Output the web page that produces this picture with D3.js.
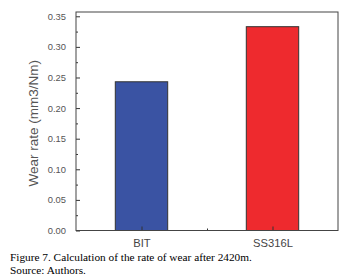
<!DOCTYPE html>
<html>
<head>
<meta charset="utf-8">
<script src="https://cdn.jsdelivr.net/npm/d3@7"></script>
<style>
  body { margin: 0; background: #fff; }
  svg { display: block; }
</style>
</head>
<body>
<script>
let categories = ["BIT", "SS316L"];
let wearRate = [0.243, 0.333];
let barColors = ["#3a53a3", "#ee2a2e"];
let yTicks = [0.00, 0.05, 0.10, 0.15, 0.20, 0.25, 0.30, 0.35];

let width = 356, height = 279;
let margin = ({top: 12, right: 18, bottom: 48.5, left: 76});
let svg = d3.select("body").append("svg").attr("width", width).attr("height", height);

let x = d3.scaleLinear().domain([0.5, 2.5]).range([margin.left, width - margin.right]);
let y = d3.scaleLinear().domain([0, 0.357]).range([height - margin.bottom, margin.top]);
let bw = x(1.4) - x(1);

// bars
svg.append("g")
    .selectAll("rect")
    .data(wearRate)
    .join("rect")
    .attr("x", (d, i) => x(i + 1) - bw / 2)
    .attr("y", d => y(d))
    .attr("width", bw)
    .attr("height", d => y(0) - y(d))
    .attr("fill", (d, i) => barColors[i])
    .attr("stroke", "#333")
    .attr("stroke-width", 1);

// y axis, ticks inward
let yAxis = d3.axisLeft(y).tickValues(yTicks).tickSize(-4).tickPadding(10).tickFormat(d3.format(".2f"));
svg.append("g")
    .attr("transform", `translate(${margin.left},0)`)
    .call(yAxis)
    .call(g => g.select(".domain").remove())
    .call(g => g.selectAll(".tick line").attr("stroke", "#333"))
    .call(g => g.selectAll(".tick text").attr("fill", "#555").attr("font-family", "Liberation Sans, Arial, sans-serif").attr("font-size", 9.4));

let yMinor = d3.axisLeft(y).tickValues(d3.range(0.025, 0.35, 0.05)).tickSize(-2).tickFormat("");
svg.append("g")
    .attr("transform", `translate(${margin.left},0)`)
    .call(yMinor)
    .call(g => g.select(".domain").remove())
    .call(g => g.selectAll(".tick line").attr("stroke", "#333"));

// x axis, ticks inward
let xAxis = d3.axisBottom(x).tickValues([1, 2]).tickSize(-4).tickPadding(9).tickFormat((d, i) => categories[i]);
svg.append("g")
    .attr("transform", `translate(0,${y(0)})`)
    .call(xAxis)
    .call(g => g.select(".domain").remove())
    .call(g => g.selectAll(".tick line").attr("stroke", "#333"))
    .call(g => g.selectAll(".tick text").attr("fill", "#444").attr("font-family", "Liberation Sans, Arial, sans-serif").attr("font-size", 11.2));

let xMinor = d3.axisBottom(x).tickValues([1.5]).tickSize(-2).tickFormat("");
svg.append("g")
    .attr("transform", `translate(0,${y(0)})`)
    .call(xMinor)
    .call(g => g.select(".domain").remove())
    .call(g => g.selectAll(".tick line").attr("stroke", "#333"));

// frame
svg.append("rect")
    .attr("x", margin.left)
    .attr("y", margin.top)
    .attr("width", width - margin.right - margin.left)
    .attr("height", y(0) - margin.top)
    .attr("fill", "none")
    .attr("stroke", "#444")
    .attr("stroke-width", 1);

// y label
svg.append("text")
    .attr("transform", `translate(38,${(margin.top + y(0)) / 2 + 2}) rotate(-90)`)
    .attr("text-anchor", "middle")
    .attr("font-family", "Liberation Sans, Arial, sans-serif")
    .attr("font-size", 13.5)
    .attr("fill", "#555")
    .text("Wear rate (mm3/Nm)");

// caption
svg.append("text")
    .attr("x", 10).attr("y", 261)
    .attr("font-family", "Liberation Serif, Times New Roman, serif")
    .attr("font-size", 11.3)
    .attr("fill", "#000")
    .text("Figure 7. Calculation of the rate of wear after 2420m.");
svg.append("text")
    .attr("x", 10).attr("y", 273.5)
    .attr("font-family", "Liberation Serif, Times New Roman, serif")
    .attr("font-size", 11.3)
    .attr("fill", "#000")
    .text("Source: Authors.");
</script>
</body>
</html>
